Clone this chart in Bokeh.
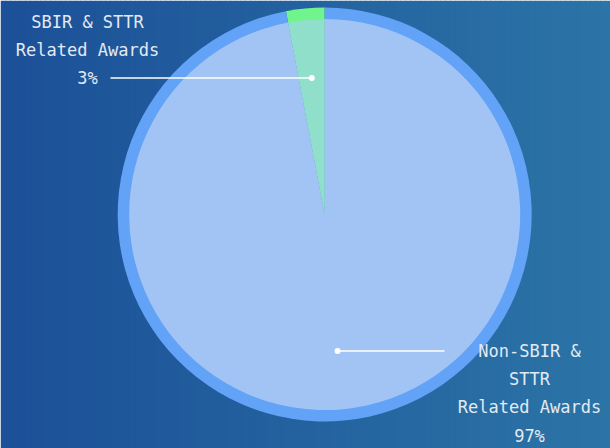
import math
import numpy as np
from bokeh.plotting import figure
from bokeh.models import Range1d, ColumnDataSource
from bokeh.core.properties import value
from bokeh.embed import file_html
from bokeh.resources import INLINE

# Award share data
categories = ["SBIR & STTR\nRelated Awards", "Non-SBIR &\nSTTR\nRelated Awards"]
shares = [3, 97]
ring_colors = ["#6ff58c", "#62a2f7"]
fill_colors = ["#8fdfca", "#a2c4f4"]

W, H = 610, 448
cx, cy = 324.2, H - 214.0
R_OUT, R_IN = 207.0, 195.5
DOT_R = 137.0

p = figure(width=W, height=H, output_backend="svg", toolbar_location=None,
           x_range=Range1d(0, W), y_range=Range1d(0, H), match_aspect=False)
p.axis.visible = False
p.grid.visible = False
p.outline_line_color = None
p.min_border = 0
p.border_fill_color = None
p.background_fill_color = None

# horizontal background gradient
n = 122
left = np.array([0x1c, 0x50, 0x98])
right = np.array([0x2b, 0x74, 0xa6])
xs = np.linspace(0, W, n + 1)
cols = []
for i in range(n):
    t = i / (n - 1)
    c = (left + (right - left) * t).round().astype(int)
    cols.append("#%02x%02x%02x" % tuple(c))
p.quad(left=xs[:-1], right=xs[1:] + 0.6, bottom=0, top=H, fill_color=cols, line_color=None)

# slices: first slice starts at 12 o'clock and runs counter-clockwise
total = sum(shares)
starts, ends, mids = [], [], []
a = math.pi / 2
for s in shares:
    sweep = 2 * math.pi * s / total
    starts.append(a)
    ends.append(a + sweep)
    mids.append(a + sweep / 2)
    a += sweep

src = ColumnDataSource(dict(start=starts, end=ends, ring=ring_colors, fill=fill_colors))
p.wedge(x=cx, y=cy, radius=R_OUT, start_angle="start", end_angle="end",
        fill_color="ring", line_color=None, source=src)
p.wedge(x=cx, y=cy, radius=R_IN, start_angle="start", end_angle="end",
        fill_color="fill", line_color=None, source=src)

# leader lines and labels
dots_x = [cx + DOT_R * math.cos(m) for m in mids]
dots_y = [cy + DOT_R * math.sin(m) for m in mids]
line_ends_x = [110, 444]
label_x = [87, 529]
line_h = 28.3

for i, cat in enumerate(categories):
    p.segment(x0=dots_x[i], y0=dots_y[i], x1=line_ends_x[i], y1=dots_y[i],
              line_color="#ffffff", line_width=1.5)
    lines = cat.split("\n") + ["%d%%" % shares[i]]
    # left label ends level with its leader line, right label starts level with it
    if i == 0:
        ys = [dots_y[i] + (len(lines) - 1 - k) * line_h for k in range(len(lines))]
    else:
        ys = [dots_y[i] - k * line_h for k in range(len(lines))]
    p.text(x=[label_x[i]] * len(lines), y=ys, text=lines,
           text_font=value("DejaVu Sans Mono"), text_font_size="17px",
           text_color="#e2eaf2", text_align="center", text_baseline="middle")

p.scatter(x=dots_x, y=dots_y, size=6, fill_color="#ffffff", line_color=None)

open("out.html", "w").write(file_html(p, INLINE))
